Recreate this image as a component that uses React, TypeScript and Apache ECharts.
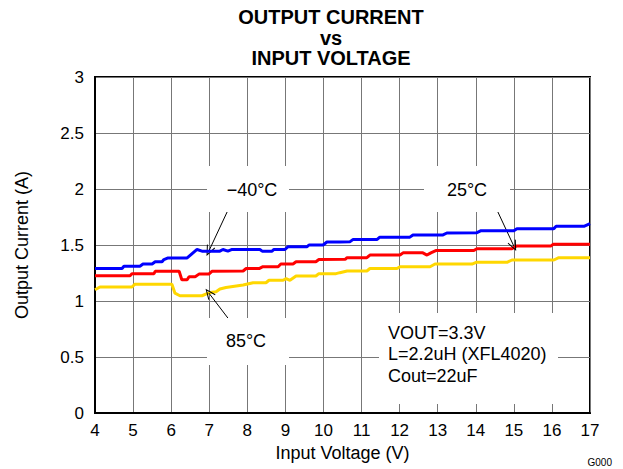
import React, { useEffect, useRef } from "react";
import * as echarts from "echarts";

// ---- data ----
const xTicks = [4, 5, 6, 7, 8, 9, 10, 11, 12, 13, 14, 15, 16, 17];
const yTicks = ["0", "0.5", "1", "1.5", "2", "2.5", "3"];

const vM40 = [4.0, 4.71, 4.76, 5.18, 5.26, 5.5, 5.58, 5.76, 5.81, 5.92, 6.42, 6.68, 6.81, 7.02, 7.28, 7.36, 7.49, 7.6, 8.33, 8.39, 8.65, 8.7, 8.99, 9.07, 9.57, 9.62, 9.99, 10.09, 10.43, 10.7, 10.78, 11.41, 11.48, 12.27, 12.35, 13.14, 13.24, 14.03, 14.14, 15.0, 15.08, 16.05, 16.11, 16.84, 17.0];
const iM40 = [1.29, 1.29, 1.31, 1.31, 1.33, 1.33, 1.35, 1.35, 1.37, 1.385, 1.385, 1.46, 1.445, 1.445, 1.445, 1.46, 1.445, 1.46, 1.46, 1.445, 1.445, 1.46, 1.46, 1.485, 1.485, 1.5, 1.5, 1.527, 1.527, 1.53, 1.55, 1.55, 1.57, 1.57, 1.59, 1.59, 1.607, 1.61, 1.628, 1.628, 1.646, 1.646, 1.667, 1.667, 1.69];

const v25 = [4.0, 4.92, 4.97, 5.55, 5.58, 6.21, 6.28, 6.42, 6.47, 6.63, 6.73, 6.99, 7.07, 7.89, 7.97, 8.31, 8.41, 8.81, 8.88, 9.2, 9.28, 9.8, 9.88, 10.57, 10.62, 11.14, 11.22, 12.01, 12.09, 12.61, 12.72, 12.82, 12.95, 13.95, 14.03, 14.95, 15.06, 15.97, 16.03, 17.0];
const i25 = [1.226, 1.226, 1.244, 1.244, 1.265, 1.265, 1.19, 1.19, 1.217, 1.217, 1.24, 1.24, 1.265, 1.268, 1.29, 1.29, 1.306, 1.306, 1.33, 1.33, 1.35, 1.35, 1.37, 1.372, 1.387, 1.387, 1.41, 1.41, 1.43, 1.43, 1.41, 1.43, 1.45, 1.45, 1.467, 1.467, 1.49, 1.49, 1.506, 1.506];

const v85 = [4.0, 4.13, 4.97, 5.05, 6.02, 6.1, 6.23, 6.81, 6.94, 7.02, 7.18, 7.28, 7.44, 7.89, 8.15, 8.49, 8.57, 8.94, 9.02, 9.12, 9.28, 9.8, 9.88, 10.33, 10.43, 10.62, 11.14, 11.22, 11.93, 12.01, 12.8, 12.93, 13.9, 14.01, 14.82, 14.95, 16.05, 16.18, 17.0];
const i85 = [1.1, 1.125, 1.125, 1.15, 1.15, 1.07, 1.047, 1.047, 1.065, 1.075, 1.083, 1.107, 1.12, 1.143, 1.163, 1.163, 1.185, 1.185, 1.2, 1.185, 1.223, 1.223, 1.244, 1.244, 1.253, 1.268, 1.268, 1.29, 1.29, 1.306, 1.306, 1.33, 1.33, 1.345, 1.345, 1.366, 1.366, 1.387, 1.387];

// arrow annotations: [tailV, tailI, headV, headI]
const arrowM40 = [7.47, 1.795, 6.99, 1.446];
const arrow25 = [14.56, 1.81, 15.0, 1.49];
const arrow85 = [7.49, 0.848, 6.99, 1.071];

const zip = (xs: number[], ys: number[]) => xs.map((x, i) => [x, ys[i]]);

const FONT = "Liberation Sans, Arial, sans-serif";
const ARROW = "path://M0,0 L-4.5,10 L-3.6,10.5 L0,2.4 L3.6,10.5 L4.5,10 Z";

export default function App() {
  const ref = useRef<HTMLDivElement>(null);
  useEffect(() => {
    if (!ref.current) return;
    const chart = echarts.init(ref.current, undefined, { renderer: "svg" });
    const arrowLine = (a: number[]) => [
      { coord: [a[0], a[1]], symbol: "none" },
      { coord: [a[2], a[3]], symbol: ARROW, symbolSize: [9, 11] },
    ];
    const labelBox = (x: number, y: number, w: number, h: number) => ({
      type: "rect",
      shape: { x, y, width: w, height: h },
      style: { fill: "#fff" },
      z: 50,
    });
    const txt = (x: number, y: number, text: string, size: number, extra: any = {}) => ({
      type: "text",
      x,
      y,
      z: 60,
      style: {
        text,
        fontFamily: FONT,
        fontSize: size,
        fill: "#000",
        align: "center",
        verticalAlign: "middle",
        ...extra,
      },
    });
    chart.setOption({
      animation: false,
      grid: {
        left: 95,
        right: 33,
        top: 77,
        bottom: 56,
        show: true,
        borderColor: "#000",
        borderWidth: 2,
        backgroundColor: "#fff",
      },
      xAxis: {
        type: "value",
        min: 4,
        max: 17,
        interval: 1,
        name: "Input Voltage (V)",
        nameLocation: "middle",
        nameGap: 31,
        nameTextStyle: { fontFamily: FONT, fontSize: 18, color: "#000" },
        axisLine: { show: true, lineStyle: { color: "#000", width: 2 } },
        axisTick: { show: false },
        axisLabel: {
          fontFamily: FONT,
          fontSize: 17,
          color: "#000",
          margin: 9,
          formatter: (v: number) => (xTicks.includes(v) ? String(v) : ""),
        },
        splitLine: { show: true, lineStyle: { color: "#777", width: 1 } },
      },
      yAxis: {
        type: "value",
        min: 0,
        max: 3,
        interval: 0.5,
        name: "Output Current (A)",
        nameLocation: "middle",
        nameGap: 64,
        nameTextStyle: { fontFamily: FONT, fontSize: 18, color: "#000" },
        axisLine: { show: true, lineStyle: { color: "#000", width: 2 } },
        axisTick: { show: false },
        axisLabel: {
          fontFamily: FONT,
          fontSize: 17,
          color: "#000",
          margin: 11,
          formatter: (v: number) => yTicks[Math.round(v * 2)] ?? "",
        },
        splitLine: { show: true, lineStyle: { color: "#777", width: 1 } },
      },
      series: [
        {
          name: "-40°C",
          type: "line",
          data: zip(vM40, iM40),
          showSymbol: false,
          lineStyle: { color: "#0000ff", width: 3 },
          z: 5,
          markLine: {
            silent: true,
            animation: false,
            label: { show: false },
            lineStyle: { color: "#000", width: 1, type: "solid" },
            emphasis: { disabled: true },
            data: [arrowLine(arrowM40), arrowLine(arrow25), arrowLine(arrow85)],
          },
        },
        {
          name: "25°C",
          type: "line",
          data: zip(v25, i25),
          showSymbol: false,
          lineStyle: { color: "#ff0000", width: 3 },
          z: 4,
        },
        {
          name: "85°C",
          type: "line",
          data: zip(v85, i85),
          showSymbol: false,
          lineStyle: { color: "#ffd700", width: 3 },
          z: 3,
        },
      ],
      graphic: [
        txt(331, 17, "OUTPUT CURRENT", 20, { fontWeight: "bold" }),
        txt(331, 37.5, "vs", 20, { fontWeight: "bold" }),
        txt(331, 58, "INPUT VOLTAGE", 20, { fontWeight: "bold" }),
        labelBox(207, 166, 82, 46),
        txt(252, 190, "\u221240°C", 18),
        labelBox(424, 166, 86, 46),
        txt(467, 190, "25°C", 18),
        labelBox(207, 318, 82, 47),
        txt(246, 341, "85°C", 18),
        labelBox(379, 313, 179, 91),
        txt(388, 333, "VOUT=3.3V", 18, { align: "left" }),
        txt(388, 354, "L=2.2uH (XFL4020)", 18, { align: "left" }),
        txt(388, 376, "Cout=22uF", 18, { align: "left" }),
        txt(612, 462, "G000", 10, { align: "right" }),
      ],
    });
    return () => chart.dispose();
  }, []);
  return (
    <div
      ref={ref}
      style={{ position: "fixed", left: 0, top: 0, width: 623, height: 469, background: "#fff" }}
    />
  );
}
